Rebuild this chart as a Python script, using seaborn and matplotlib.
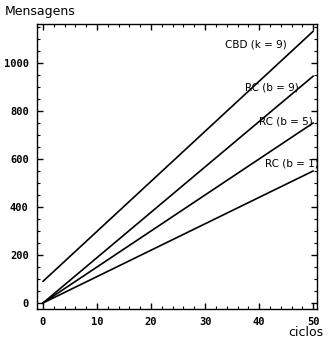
import matplotlib
matplotlib.use("Agg")
import matplotlib.pyplot as plt
import seaborn as sns
import pandas as pd
from matplotlib.ticker import MultipleLocator

ciclos = [0, 50]
series_names = ["CBD (k = 9)", "RC (b = 9)", "RC (b = 5)", "RC (b = 1)"]
cbd_k9 = [90, 1132]
rc_b9 = [0, 945]
rc_b5 = [0, 750]
rc_b1 = [0, 550]

rows = []
for name, vals in zip(series_names, [cbd_k9, rc_b9, rc_b5, rc_b1]):
    for c, v in zip(ciclos, vals):
        rows.append({"ciclos": c, "Mensagens": v, "serie": name})
df = pd.DataFrame(rows)

sns.set_style("white")
plt.rcParams['font.family'] = ['DejaVu Sans']
plt.rcParams['text.color'] = 'black'

fig = plt.figure(figsize=(3.28, 3.41), dpi=100)
ax = fig.add_axes([0.1128, 0.0938, 0.8537, 0.8358])
sns.lineplot(data=df, x="ciclos", y="Mensagens", hue="serie",
             palette=["black"] * 4, linewidth=1.2, legend=False, ax=ax)

ax.set_xlim(-1.1, 50.7)
ax.set_ylim(-25, 1162)
ax.xaxis.set_major_locator(MultipleLocator(10))
ax.xaxis.set_minor_locator(MultipleLocator(2))
ax.yaxis.set_major_locator(MultipleLocator(200))
ax.yaxis.set_minor_locator(MultipleLocator(50))
ax.tick_params(which="both", direction="in", top=True, right=True,
               bottom=True, left=True, colors="black")
ax.tick_params(which="major", length=4, width=1, labelsize=7.5, pad=6)
ax.tick_params(which="minor", length=2, width=0.8)
ax.tick_params(axis="x", which="major", labeltop=False)
ax.tick_params(axis="y", which="major", labelright=False)
for lab in ax.get_xticklabels() + ax.get_yticklabels():
    lab.set_fontfamily("DejaVu Sans Mono")
    lab.set_fontweight("bold")
for s in ax.spines.values():
    s.set_color("black")
    s.set_linewidth(1)
    s.set_visible(True)

ax.set_xlabel("")
ax.set_ylabel("")
fig.text(0.015, 0.965, "Mensagens", fontsize=9, ha="left", va="center", color="black")
fig.text(0.985, 0.025, "ciclos", fontsize=9, ha="right", va="center", color="black")

label_pos = {"CBD (k = 9)": (39.4, 1075), "RC (b = 9)": (42.4, 896),
             "RC (b = 5)": (45.0, 758), "RC (b = 1)": (46.0, 583)}
for name in series_names:
    x, y = label_pos[name]
    ax.text(x, y, name, fontsize=7.5, ha="center", va="center", color="black")

fig.savefig("out.png", dpi=100)
